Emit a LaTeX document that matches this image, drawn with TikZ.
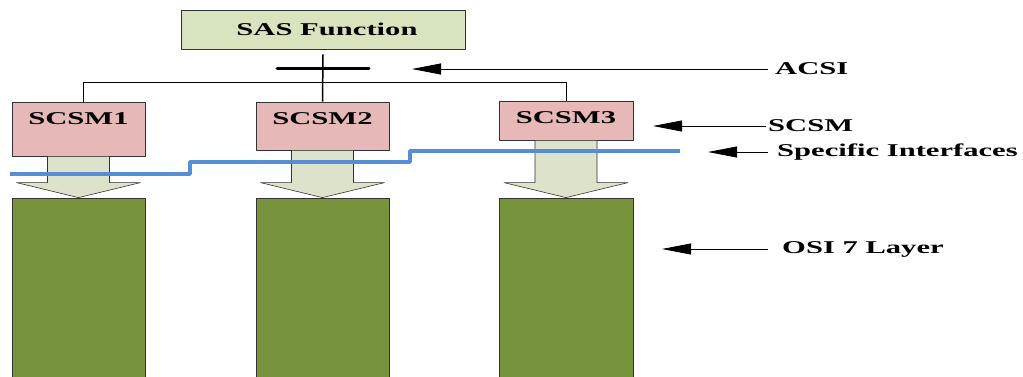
\documentclass[tikz,border=0pt]{standalone}
\usepackage{fontspec}
\setmainfont{Liberation Serif}
\usepackage{graphicx}
\usetikzlibrary{arrows.meta,calc}
\definecolor{sasgreen}{HTML}{D7E4BD}
\definecolor{scsmpink}{HTML}{E6B9B8}
\definecolor{arrowgrey}{HTML}{DDE3CB}
\definecolor{osigreen}{HTML}{77933C}
\definecolor{ifblue}{HTML}{558ED5}
\newcommand{\wide}[1]{\scalebox{1.7}[1]{#1}}
\tikzset{
  box/.style={draw=black!80, line width=0.8pt, inner sep=0pt},
  lbl/.style={anchor=north, inner sep=0pt, yshift=-11pt},
  side/.style={anchor=west, inner sep=0pt},
  blockarrow/.style={draw=black!80, line width=0.6pt, fill=arrowgrey},
  pointer/.style={line width=0.8pt, -{Triangle[length=29pt,width=11pt]}}
}
\begin{document}
\begin{tikzpicture}[x=1pt, y=-1pt, font=\fontsize{18}{20}\selectfont\bfseries, line join=round]
	\useasboundingbox (0,0) rectangle (1023,376);
	% top function
	\node[box, fill=sasgreen, minimum width=284pt, minimum height=39pt] (sas) at (323,29.5) {\hspace{8pt}\wide{SAS Function}};
	% mapping boxes
	\node[box, fill=scsmpink, minimum width=133pt, minimum height=54pt] (scsm1) at (78.5,129) {};
	\node[box, fill=scsmpink, minimum width=133pt, minimum height=48pt] (scsm2) at (322.5,126) {};
	\node[box, fill=scsmpink, minimum width=134pt, minimum height=39pt] (scsm3) at (566,120.5) {};
	\node[lbl] (t1) at (scsm1.north) {\wide{SCSM1}};
	\node[lbl] (t2) at (scsm2.north) {\wide{SCSM2}};
	\node[lbl] (t3) at (scsm3.north) {\wide{SCSM3}};
	% layer stacks
	\node[box, fill=osigreen, minimum width=133pt, minimum height=186pt] (osi1) at (78.5,291) {};
	\node[box, fill=osigreen, minimum width=133pt, minimum height=186pt] (osi2) at (322.5,291) {};
	\node[box, fill=osigreen, minimum width=134pt, minimum height=186pt] (osi3) at (566,291) {};
	% block arrows
	\foreach \i in {1,2,3}
		\draw[blockarrow] ($(scsm\i.south)+(-31,0)$) -- ($(osi\i.north)+(-31,-15)$) -- ($(osi\i.north)+(-62,-15)$) -- (osi\i.north) -- ($(osi\i.north)+(62,-15)$) -- ($(osi\i.north)+(31,-15)$) -- ($(scsm\i.south)+(31,0)$) -- cycle;
	% specific interfaces
	\draw[ifblue, line width=3.5pt] (10,174) -- (190,174) -- (190,162) -- (410,162) -- (410,151) -- (680,151);
	% ACSI bus
	\coordinate (barL) at (277,68);
	\coordinate (barR) at (369,68);
	\draw[line width=3pt, line cap=round] (barL) -- (barR);
	\draw[line width=1.5pt] ($(sas.south)+(0,5)$) -- (scsm2.north);
	\draw[line width=1pt] ([xshift=4.5pt]scsm1.north) -- ++(0,-19) -| (scsm3.north);
	% side labels
	\node[side] (acsi) at (775,69) {\wide{ACSI}};
	\node[side] (scsm) at (768,126) {\wide{SCSM}};
	\node[side] (spec) at (777,152) {\wide{Specific Interfaces}};
	\node[side] (osi) at (782,249) {\wide{OSI 7 Layer}};
	\coordinate (acsitip) at (412,69);
	\coordinate (scsmtip) at (653,126);
	\coordinate (spectip) at (708,152);
	\coordinate (ositip) at (662,249);
	\draw[pointer] ($(acsi.west)+(-7,0)$) -- (acsitip);
	\draw[pointer] ($(scsm.west)+(-2,0)$) -- (scsmtip);
	\draw[pointer] ($(spec.west)+(-9,0)$) -- (spectip);
	\draw[pointer] ($(osi.west)+(-14,0)$) -- (ositip);
\end{tikzpicture}
\end{document}
